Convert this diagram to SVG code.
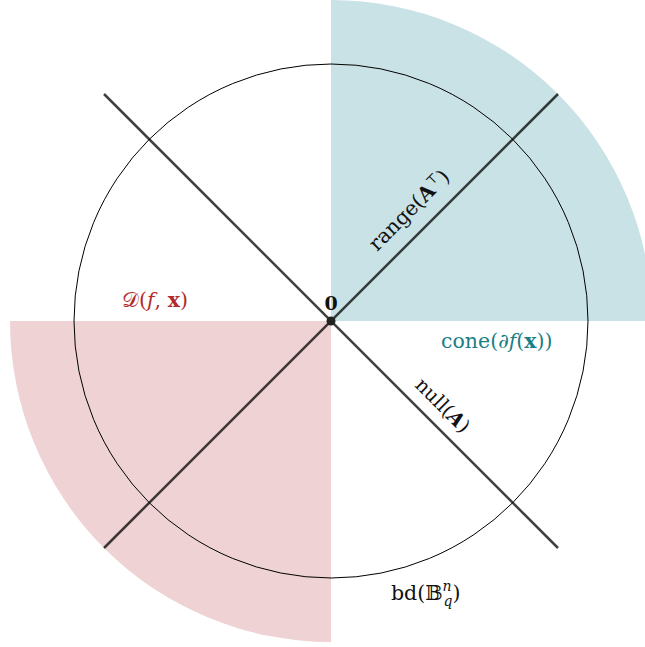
<svg xmlns="http://www.w3.org/2000/svg" width="645" height="647" viewBox="0 0 645 647">
<style>
.lbl{font-family:"DejaVu Serif","Liberation Serif",serif;font-size:20.5px;fill:#111}
.axis{stroke:#000;stroke-opacity:0.75;stroke-width:2.5;fill:none}
</style>
<rect width="645" height="647" fill="#fff"/>
<g id="cone-region">
<path d="M331,321 L331,0 A321,321 0 0 1 652,321 Z" fill="#c9e2e5"/>
</g>
<g id="tangent-region">
<path d="M331,321 L331,642 A321,321 0 0 1 10,321 Z" fill="#efd2d3"/>
</g>
<g id="ball">
<circle cx="331" cy="321" r="257" fill="none" stroke="#000" stroke-width="1"/>
</g>
<g id="connectors">
<line class="axis" x1="104" y1="548" x2="558" y2="94"/>
<line class="axis" x1="104" y1="94" x2="558" y2="548"/>
</g>
<g id="origin">
<circle cx="331" cy="321" r="4.5" fill="#222"/>
<text x="331" y="310" text-anchor="middle" class="lbl" style="font-weight:bold;font-size:19px">0</text>
</g>
<g id="range-label">
<text class="lbl" transform="translate(414,215) rotate(-45)" text-anchor="middle">range(<tspan font-weight="bold">A</tspan><tspan font-size="13" dy="-8">⊤</tspan><tspan dy="8">)</tspan></text>
</g>
<g id="null-label">
<text class="lbl" transform="translate(438,410) rotate(45)" text-anchor="middle" style="font-size:19.5px">null(<tspan font-weight="bold" font-style="italic">A</tspan>)</text>
</g>
<g id="cone-label">
<text class="lbl" x="441" y="348" style="fill:#1a7f85">cone(∂<tspan font-style="italic">f</tspan>(<tspan font-weight="bold">x</tspan>))</text>
</g>
<g id="d-label">
<text class="lbl" x="122" y="307" style="fill:#b22a2a">𝒟(<tspan font-style="italic">f</tspan>, <tspan font-weight="bold">x</tspan>)</text>
</g>
<g id="bd-label">
<text class="lbl" x="391" y="600">bd(𝔹<tspan font-size="14" font-style="italic" dy="-9">n</tspan><tspan font-size="14" font-style="italic" dx="-8" dy="15">q</tspan><tspan dy="-6">)</tspan></text>
</g>
</svg>
